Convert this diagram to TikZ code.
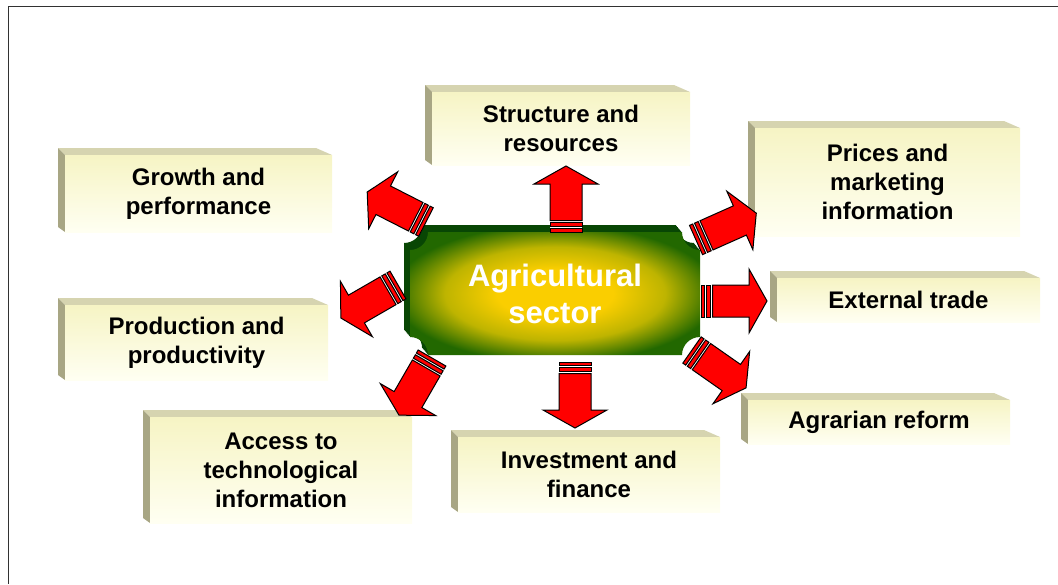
\documentclass[tikz,border=0pt]{standalone}
\usepackage{fontspec}
\setmainfont{Liberation Sans}
\usetikzlibrary{calc}

\definecolor{boxface}{RGB}{246,244,196}
\definecolor{boxfoot}{RGB}{255,255,242}
\definecolor{boxside}{RGB}{168,166,132}
\definecolor{boxrim}{RGB}{214,212,176}
\definecolor{plaqueback}{RGB}{8,70,4}
\definecolor{glowcore}{RGB}{250,206,0}
\definecolor{glowmid}{RGB}{190,180,0}
\definecolor{leafgreen}{RGB}{34,104,0}
\definecolor{framegray}{RGB}{50,50,50}

\pgfdeclareradialshading{plaqueglow}{\pgfpoint{0bp}{0bp}}{color(0bp)=(glowcore); color(10bp)=(glowcore); color(19bp)=(glowmid); color(28bp)=(leafgreen); color(50bp)=(leafgreen)}

\tikzset{
  boxlabel/.style={font=\bfseries\fontsize{12}{14.5}\selectfont, align=center, inner sep=0pt},
  sectorlabel/.style={font=\bfseries\fontsize{15.5}{18.5}\selectfont, align=center, text=white, inner sep=0pt},
  arrowline/.style={fill=red, draw=black, line width=0.5pt, line join=miter},
  % striped block arrow, tail at the origin, pointing along +x
  bandarrow/.pic={
    \fill[white] (0,-16) rectangle (11.5,16);
    \draw[arrowline] (0,-16) rectangle (3.5,16);
    \draw[arrowline] (5.5,-16) rectangle (9.5,16);
    \draw[arrowline] (11.5,-16) -- (48,-16) -- (48,-32) -- (66,0)
      -- (48,32) -- (48,16) -- (11.5,16) -- cycle;
  }
}

% raised box: name, left, top, right, bottom, text
\newcommand{\infobox}[6]{%
  \fill[boxrim] (#2-7,#3-7) -- (#4-16,#3-7) -- (#4,#3) -- (#2,#3) -- cycle;
  \fill[boxside] (#2-7,#3-7) -- (#2,#3) -- (#2,#5) -- (#2-7,#5-5) -- cycle;
  \shade[top color=boxface, bottom color=boxfoot] (#2,#3) rectangle (#4,#5);
  \node[boxlabel] (#1) at ($(#2,#3)!0.5!(#4,#5)$) {#6};
}

\begin{document}
\begin{tikzpicture}[x=0.5pt, y=-0.5pt]
  \useasboundingbox (0,0) rectangle (1058,584);

  % outer boxes
  \infobox{structure}{432}{92}{690}{165}{Structure and\\resources}
  \infobox{growth}{65}{155}{332}{232}{Growth and\\performance}
  \infobox{prices}{755}{128}{1020}{236}{Prices and\\marketing\\information}
  \infobox{trade}{777}{278}{1040}{322}{External trade}
  \infobox{production}{65}{305}{328}{380}{Production and\\productivity}
  \infobox{agrarian}{748}{400}{1010}{444}{Agrarian reform}
  \infobox{access}{150}{417}{412}{523}{Access to\\technological\\information}
  \infobox{investment}{458}{437}{720}{512}{Investment and\\finance}

  % centre plaque: extruded back, then the glowing face
  \foreach \k in {7,6,...,1}
    \fill[plaqueback, shift={(-\k*0.85,-\k)}] (428,232) -- (682,232)
      arc[start angle=180, end angle=90, radius=18] -- (700,337)
      arc[start angle=270, end angle=180, radius=18] -- (428,355)
      arc[start angle=0, end angle=-90, radius=18] -- (410,250)
      arc[start angle=90, end angle=0, radius=18] -- cycle;
  \shade[shading=plaqueglow] (428,232) -- (682,232)
    arc[start angle=180, end angle=90, radius=18] -- (700,337)
    arc[start angle=270, end angle=180, radius=18] -- (428,355)
    arc[start angle=0, end angle=-90, radius=18] -- (410,250)
    arc[start angle=90, end angle=0, radius=18] -- cycle;
  \node[sectorlabel] (sector) at (555,293.5) {Agricultural\\sector};

  % arrows out of the plaque
  \pic[rotate=90]  at (566,232) {bandarrow};
  \pic[rotate=-90] at (575,362) {bandarrow};
  \pic[rotate=0]   at (701,301) {bandarrow};
  \pic[rotate=24]  at (696,240) {bandarrow};
  \pic[rotate=-35] at (692,350) {bandarrow};
  \pic[rotate=153] at (426,222) {bandarrow};
  \pic[rotate=210] at (398,285) {bandarrow};
  \pic[rotate=240] at (432,358) {bandarrow};

  % frame
  \draw[framegray, line width=0.75pt] (1058,6.5) -- (8.5,6.5) -- (8.5,584);
\end{tikzpicture}
\end{document}
